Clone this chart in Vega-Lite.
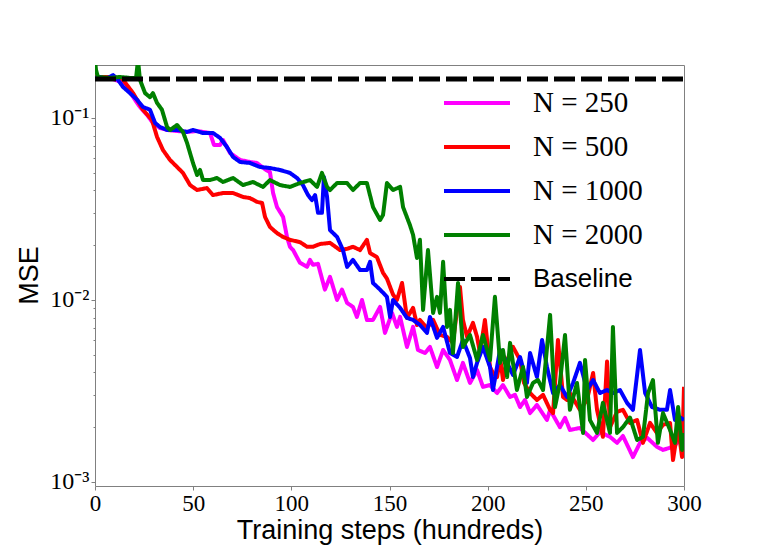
{
  "$schema": "https://vega.github.io/schema/vega-lite/v6.json",
  "width": 589,
  "height": 421,
  "autosize": {"type": "none"},
  "padding": {"left": 95, "top": 65, "right": 77, "bottom": 60},
  "background": "white",
  "config": {"view": {"stroke": "#808080", "strokeWidth": 1}},
  "data": {
    "values": [
      {"series": "N = 250", "steps": 0, "mse": 0.168},
      {"series": "N = 250", "steps": 7.6, "mse": 0.166},
      {"series": "N = 250", "steps": 14.3, "mse": 0.156},
      {"series": "N = 250", "steps": 17.8, "mse": 0.139},
      {"series": "N = 250", "steps": 21.4, "mse": 0.121},
      {"series": "N = 250", "steps": 22.9, "mse": 0.115},
      {"series": "N = 250", "steps": 26.5, "mse": 0.104},
      {"series": "N = 250", "steps": 29.5, "mse": 0.0939},
      {"series": "N = 250", "steps": 33.1, "mse": 0.0881},
      {"series": "N = 250", "steps": 36.7, "mse": 0.0859},
      {"series": "N = 250", "steps": 41.8, "mse": 0.0848},
      {"series": "N = 250", "steps": 46.9, "mse": 0.0838},
      {"series": "N = 250", "steps": 52.0, "mse": 0.0848},
      {"series": "N = 250", "steps": 58.6, "mse": 0.0827},
      {"series": "N = 250", "steps": 60.6, "mse": 0.0711},
      {"series": "N = 250", "steps": 63.7, "mse": 0.0711},
      {"series": "N = 250", "steps": 65.2, "mse": 0.0757},
      {"series": "N = 250", "steps": 68.8, "mse": 0.0642},
      {"series": "N = 250", "steps": 73.9, "mse": 0.0588},
      {"series": "N = 250", "steps": 78.9, "mse": 0.0573},
      {"series": "N = 250", "steps": 82.5, "mse": 0.0566},
      {"series": "N = 250", "steps": 85.1, "mse": 0.0538},
      {"series": "N = 250", "steps": 87.1, "mse": 0.0518},
      {"series": "N = 250", "steps": 89.1, "mse": 0.0505},
      {"series": "N = 250", "steps": 90.7, "mse": 0.0387},
      {"series": "N = 250", "steps": 92.7, "mse": 0.0324},
      {"series": "N = 250", "steps": 95.8, "mse": 0.0286},
      {"series": "N = 250", "steps": 97.8, "mse": 0.0222},
      {"series": "N = 250", "steps": 99.3, "mse": 0.0196},
      {"series": "N = 250", "steps": 100.9, "mse": 0.0188},
      {"series": "N = 250", "steps": 104.4, "mse": 0.016},
      {"series": "N = 250", "steps": 108.0, "mse": 0.0152},
      {"series": "N = 250", "steps": 109.5, "mse": 0.0166},
      {"series": "N = 250", "steps": 111.0, "mse": 0.0156},
      {"series": "N = 250", "steps": 113.6, "mse": 0.0158},
      {"series": "N = 250", "steps": 117.1, "mse": 0.0114},
      {"series": "N = 250", "steps": 119.7, "mse": 0.0134},
      {"series": "N = 250", "steps": 123.3, "mse": 0.01},
      {"series": "N = 250", "steps": 125.8, "mse": 0.0114},
      {"series": "N = 250", "steps": 128.4, "mse": 0.00963},
      {"series": "N = 250", "steps": 131.4, "mse": 0.00916},
      {"series": "N = 250", "steps": 133.4, "mse": 0.00807},
      {"series": "N = 250", "steps": 136.0, "mse": 0.01},
      {"series": "N = 250", "steps": 138.5, "mse": 0.00777},
      {"series": "N = 250", "steps": 141.6, "mse": 0.00777},
      {"series": "N = 250", "steps": 145.2, "mse": 0.00916},
      {"series": "N = 250", "steps": 147.7, "mse": 0.00659},
      {"series": "N = 250", "steps": 151.3, "mse": 0.00849},
      {"series": "N = 250", "steps": 153.8, "mse": 0.00711},
      {"series": "N = 250", "steps": 155.4, "mse": 0.00807},
      {"series": "N = 250", "steps": 158.9, "mse": 0.00552},
      {"series": "N = 250", "steps": 162.0, "mse": 0.00711},
      {"series": "N = 250", "steps": 164.5, "mse": 0.00531},
      {"series": "N = 250", "steps": 168.1, "mse": 0.00511},
      {"series": "N = 250", "steps": 170.6, "mse": 0.00552},
      {"series": "N = 250", "steps": 174.2, "mse": 0.00428},
      {"series": "N = 250", "steps": 177.3, "mse": 0.00531},
      {"series": "N = 250", "steps": 180.8, "mse": 0.00468},
      {"series": "N = 250", "steps": 184.4, "mse": 0.00363},
      {"series": "N = 250", "steps": 187.4, "mse": 0.00451},
      {"series": "N = 250", "steps": 191.0, "mse": 0.0035},
      {"series": "N = 250", "steps": 194.6, "mse": 0.00412},
      {"series": "N = 250", "steps": 197.6, "mse": 0.00333},
      {"series": "N = 250", "steps": 201.2, "mse": 0.00341},
      {"series": "N = 250", "steps": 204.8, "mse": 0.00308},
      {"series": "N = 250", "steps": 207.8, "mse": 0.00341},
      {"series": "N = 250", "steps": 211.4, "mse": 0.00293},
      {"series": "N = 250", "steps": 213.9, "mse": 0.00301},
      {"series": "N = 250", "steps": 216.5, "mse": 0.00258},
      {"series": "N = 250", "steps": 219.0, "mse": 0.00282},
      {"series": "N = 250", "steps": 221.6, "mse": 0.00239},
      {"series": "N = 250", "steps": 225.1, "mse": 0.00265},
      {"series": "N = 250", "steps": 230.2, "mse": 0.00219},
      {"series": "N = 250", "steps": 231.8, "mse": 0.00249},
      {"series": "N = 250", "steps": 236.8, "mse": 0.002},
      {"series": "N = 250", "steps": 239.4, "mse": 0.00225},
      {"series": "N = 250", "steps": 241.9, "mse": 0.00193},
      {"series": "N = 250", "steps": 247.0, "mse": 0.00198},
      {"series": "N = 250", "steps": 253.7, "mse": 0.0017},
      {"series": "N = 250", "steps": 257.2, "mse": 0.00188},
      {"series": "N = 250", "steps": 262.3, "mse": 0.00177},
      {"series": "N = 250", "steps": 265.9, "mse": 0.00164},
      {"series": "N = 250", "steps": 268.9, "mse": 0.00179},
      {"series": "N = 250", "steps": 274.0, "mse": 0.00137},
      {"series": "N = 250", "steps": 277.6, "mse": 0.00164},
      {"series": "N = 250", "steps": 281.2, "mse": 0.00175},
      {"series": "N = 250", "steps": 286.2, "mse": 0.00156},
      {"series": "N = 250", "steps": 289.3, "mse": 0.0015},
      {"series": "N = 250", "steps": 294.4, "mse": 0.00156},
      {"series": "N = 250", "steps": 297.0, "mse": 0.00166},
      {"series": "N = 250", "steps": 300, "mse": 0.00164},
      {"series": "N = 500", "steps": 0, "mse": 0.168},
      {"series": "N = 500", "steps": 7.6, "mse": 0.168},
      {"series": "N = 500", "steps": 12.7, "mse": 0.166},
      {"series": "N = 500", "steps": 14.3, "mse": 0.162},
      {"series": "N = 500", "steps": 19.4, "mse": 0.137},
      {"series": "N = 500", "steps": 24.4, "mse": 0.111},
      {"series": "N = 500", "steps": 29.0, "mse": 0.0975},
      {"series": "N = 500", "steps": 31.6, "mse": 0.0787},
      {"series": "N = 500", "steps": 34.6, "mse": 0.0667},
      {"series": "N = 500", "steps": 38.2, "mse": 0.0588},
      {"series": "N = 500", "steps": 41.8, "mse": 0.0538},
      {"series": "N = 500", "steps": 44.8, "mse": 0.0499},
      {"series": "N = 500", "steps": 48.4, "mse": 0.0428},
      {"series": "N = 500", "steps": 52.0, "mse": 0.0402},
      {"series": "N = 500", "steps": 57.0, "mse": 0.0412},
      {"series": "N = 500", "steps": 60.1, "mse": 0.0377},
      {"series": "N = 500", "steps": 65.2, "mse": 0.0387},
      {"series": "N = 500", "steps": 70.3, "mse": 0.0387},
      {"series": "N = 500", "steps": 75.4, "mse": 0.0368},
      {"series": "N = 500", "steps": 78.9, "mse": 0.0363},
      {"series": "N = 500", "steps": 82.5, "mse": 0.0346},
      {"series": "N = 500", "steps": 85.1, "mse": 0.0341},
      {"series": "N = 500", "steps": 86.6, "mse": 0.0286},
      {"series": "N = 500", "steps": 89.1, "mse": 0.0252},
      {"series": "N = 500", "steps": 92.7, "mse": 0.0233},
      {"series": "N = 500", "steps": 95.8, "mse": 0.0222},
      {"series": "N = 500", "steps": 99.3, "mse": 0.0214},
      {"series": "N = 500", "steps": 104.4, "mse": 0.0208},
      {"series": "N = 500", "steps": 108.0, "mse": 0.0196},
      {"series": "N = 500", "steps": 111.0, "mse": 0.0196},
      {"series": "N = 500", "steps": 114.6, "mse": 0.0203},
      {"series": "N = 500", "steps": 119.7, "mse": 0.0206},
      {"series": "N = 500", "steps": 124.8, "mse": 0.0188},
      {"series": "N = 500", "steps": 128.4, "mse": 0.0191},
      {"series": "N = 500", "steps": 131.4, "mse": 0.0196},
      {"series": "N = 500", "steps": 135.0, "mse": 0.0188},
      {"series": "N = 500", "steps": 138.5, "mse": 0.0214},
      {"series": "N = 500", "steps": 140.1, "mse": 0.0181},
      {"series": "N = 500", "steps": 143.6, "mse": 0.0172},
      {"series": "N = 500", "steps": 146.7, "mse": 0.0141},
      {"series": "N = 500", "steps": 148.7, "mse": 0.0131},
      {"series": "N = 500", "steps": 151.8, "mse": 0.0107},
      {"series": "N = 500", "steps": 153.8, "mse": 0.01},
      {"series": "N = 500", "steps": 156.4, "mse": 0.0124},
      {"series": "N = 500", "steps": 158.9, "mse": 0.00797},
      {"series": "N = 500", "steps": 162.0, "mse": 0.00905},
      {"series": "N = 500", "steps": 164.0, "mse": 0.00729},
      {"series": "N = 500", "steps": 165.5, "mse": 0.00777},
      {"series": "N = 500", "steps": 169.1, "mse": 0.00702},
      {"series": "N = 500", "steps": 172.2, "mse": 0.00777},
      {"series": "N = 500", "steps": 175.7, "mse": 0.00642},
      {"series": "N = 500", "steps": 179.3, "mse": 0.00627},
      {"series": "N = 500", "steps": 182.3, "mse": 0.00581},
      {"series": "N = 500", "steps": 185.9, "mse": 0.0118},
      {"series": "N = 500", "steps": 187.4, "mse": 0.00777},
      {"series": "N = 500", "steps": 189.5, "mse": 0.00627},
      {"series": "N = 500", "steps": 192.5, "mse": 0.00748},
      {"series": "N = 500", "steps": 194.6, "mse": 0.00627},
      {"series": "N = 500", "steps": 196.1, "mse": 0.00511},
      {"series": "N = 500", "steps": 198.6, "mse": 0.00777},
      {"series": "N = 500", "steps": 201.2, "mse": 0.00428},
      {"series": "N = 500", "steps": 202.7, "mse": 0.00397},
      {"series": "N = 500", "steps": 204.8, "mse": 0.00377},
      {"series": "N = 500", "steps": 206.3, "mse": 0.00486},
      {"series": "N = 500", "steps": 207.8, "mse": 0.00363},
      {"series": "N = 500", "steps": 209.9, "mse": 0.00468},
      {"series": "N = 500", "steps": 212.9, "mse": 0.00552},
      {"series": "N = 500", "steps": 216.5, "mse": 0.00468},
      {"series": "N = 500", "steps": 218.5, "mse": 0.0035},
      {"series": "N = 500", "steps": 221.6, "mse": 0.00308},
      {"series": "N = 500", "steps": 225.1, "mse": 0.00282},
      {"series": "N = 500", "steps": 228.2, "mse": 0.00301},
      {"series": "N = 500", "steps": 231.8, "mse": 0.00249},
      {"series": "N = 500", "steps": 233.3, "mse": 0.00239},
      {"series": "N = 500", "steps": 235.8, "mse": 0.00603},
      {"series": "N = 500", "steps": 238.4, "mse": 0.00293},
      {"series": "N = 500", "steps": 240.4, "mse": 0.00282},
      {"series": "N = 500", "steps": 241.9, "mse": 0.00308},
      {"series": "N = 500", "steps": 247.0, "mse": 0.00249},
      {"series": "N = 500", "steps": 250.6, "mse": 0.00282},
      {"series": "N = 500", "steps": 253.7, "mse": 0.00397},
      {"series": "N = 500", "steps": 255.7, "mse": 0.00249},
      {"series": "N = 500", "steps": 258.7, "mse": 0.00177},
      {"series": "N = 500", "steps": 260.8, "mse": 0.00459},
      {"series": "N = 500", "steps": 262.3, "mse": 0.002},
      {"series": "N = 500", "steps": 265.9, "mse": 0.00243},
      {"series": "N = 500", "steps": 268.9, "mse": 0.00249},
      {"series": "N = 500", "steps": 272.5, "mse": 0.00211},
      {"series": "N = 500", "steps": 276.1, "mse": 0.00219},
      {"series": "N = 500", "steps": 279.1, "mse": 0.00164},
      {"series": "N = 500", "steps": 282.7, "mse": 0.00211},
      {"series": "N = 500", "steps": 286.2, "mse": 0.00186},
      {"series": "N = 500", "steps": 289.3, "mse": 0.00206},
      {"series": "N = 500", "steps": 292.9, "mse": 0.00211},
      {"series": "N = 500", "steps": 294.4, "mse": 0.00132},
      {"series": "N = 500", "steps": 297.0, "mse": 0.002},
      {"series": "N = 500", "steps": 299.0, "mse": 0.00137},
      {"series": "N = 500", "steps": 300, "mse": 0.00333},
      {"series": "N = 1000", "steps": 0, "mse": 0.166},
      {"series": "N = 1000", "steps": 2.5, "mse": 0.168},
      {"series": "N = 1000", "steps": 5.1, "mse": 0.164},
      {"series": "N = 1000", "steps": 7.6, "mse": 0.168},
      {"series": "N = 1000", "steps": 9.2, "mse": 0.172},
      {"series": "N = 1000", "steps": 11.7, "mse": 0.162},
      {"series": "N = 1000", "steps": 14.3, "mse": 0.148},
      {"series": "N = 1000", "steps": 17.8, "mse": 0.137},
      {"series": "N = 1000", "steps": 21.4, "mse": 0.126},
      {"series": "N = 1000", "steps": 24.4, "mse": 0.115},
      {"series": "N = 1000", "steps": 28.0, "mse": 0.111},
      {"series": "N = 1000", "steps": 30.6, "mse": 0.0939},
      {"series": "N = 1000", "steps": 33.1, "mse": 0.0892},
      {"series": "N = 1000", "steps": 36.7, "mse": 0.0859},
      {"series": "N = 1000", "steps": 41.8, "mse": 0.0859},
      {"series": "N = 1000", "steps": 46.9, "mse": 0.0838},
      {"series": "N = 1000", "steps": 49.9, "mse": 0.0859},
      {"series": "N = 1000", "steps": 55.0, "mse": 0.0827},
      {"series": "N = 1000", "steps": 60.1, "mse": 0.0827},
      {"series": "N = 1000", "steps": 63.7, "mse": 0.0777},
      {"series": "N = 1000", "steps": 67.2, "mse": 0.0693},
      {"series": "N = 1000", "steps": 70.3, "mse": 0.0611},
      {"series": "N = 1000", "steps": 73.9, "mse": 0.0573},
      {"series": "N = 1000", "steps": 78.9, "mse": 0.0566},
      {"series": "N = 1000", "steps": 84.0, "mse": 0.0538},
      {"series": "N = 1000", "steps": 89.1, "mse": 0.0531},
      {"series": "N = 1000", "steps": 94.2, "mse": 0.0518},
      {"series": "N = 1000", "steps": 99.3, "mse": 0.0499},
      {"series": "N = 1000", "steps": 102.9, "mse": 0.0468},
      {"series": "N = 1000", "steps": 105.9, "mse": 0.0428},
      {"series": "N = 1000", "steps": 108.5, "mse": 0.0377},
      {"series": "N = 1000", "steps": 110.5, "mse": 0.0354},
      {"series": "N = 1000", "steps": 112.1, "mse": 0.0377},
      {"series": "N = 1000", "steps": 113.6, "mse": 0.0301},
      {"series": "N = 1000", "steps": 115.6, "mse": 0.0301},
      {"series": "N = 1000", "steps": 116.6, "mse": 0.0474},
      {"series": "N = 1000", "steps": 118.2, "mse": 0.0368},
      {"series": "N = 1000", "steps": 119.7, "mse": 0.0242},
      {"series": "N = 1000", "steps": 123.3, "mse": 0.0222},
      {"series": "N = 1000", "steps": 126.3, "mse": 0.0188},
      {"series": "N = 1000", "steps": 128.4, "mse": 0.0152},
      {"series": "N = 1000", "steps": 131.4, "mse": 0.0166},
      {"series": "N = 1000", "steps": 135.0, "mse": 0.0146},
      {"series": "N = 1000", "steps": 138.5, "mse": 0.0146},
      {"series": "N = 1000", "steps": 140.1, "mse": 0.0162},
      {"series": "N = 1000", "steps": 141.6, "mse": 0.0124},
      {"series": "N = 1000", "steps": 145.2, "mse": 0.0114},
      {"series": "N = 1000", "steps": 148.7, "mse": 0.0104},
      {"series": "N = 1000", "steps": 150.3, "mse": 0.00807},
      {"series": "N = 1000", "steps": 151.8, "mse": 0.01},
      {"series": "N = 1000", "steps": 155.4, "mse": 0.00905},
      {"series": "N = 1000", "steps": 158.9, "mse": 0.00797},
      {"series": "N = 1000", "steps": 162.0, "mse": 0.00777},
      {"series": "N = 1000", "steps": 165.5, "mse": 0.00729},
      {"series": "N = 1000", "steps": 169.1, "mse": 0.00659},
      {"series": "N = 1000", "steps": 170.6, "mse": 0.00807},
      {"series": "N = 1000", "steps": 174.2, "mse": 0.00619},
      {"series": "N = 1000", "steps": 177.3, "mse": 0.00711},
      {"series": "N = 1000", "steps": 180.8, "mse": 0.00511},
      {"series": "N = 1000", "steps": 184.4, "mse": 0.00486},
      {"series": "N = 1000", "steps": 187.4, "mse": 0.00603},
      {"series": "N = 1000", "steps": 191.0, "mse": 0.0048},
      {"series": "N = 1000", "steps": 192.5, "mse": 0.00377},
      {"series": "N = 1000", "steps": 194.6, "mse": 0.00451},
      {"series": "N = 1000", "steps": 197.6, "mse": 0.00552},
      {"series": "N = 1000", "steps": 201.2, "mse": 0.00428},
      {"series": "N = 1000", "steps": 202.7, "mse": 0.0032},
      {"series": "N = 1000", "steps": 206.3, "mse": 0.00531},
      {"series": "N = 1000", "steps": 209.9, "mse": 0.00451},
      {"series": "N = 1000", "steps": 212.9, "mse": 0.00387},
      {"series": "N = 1000", "steps": 216.5, "mse": 0.00486},
      {"series": "N = 1000", "steps": 220.0, "mse": 0.0035},
      {"series": "N = 1000", "steps": 221.6, "mse": 0.00511},
      {"series": "N = 1000", "steps": 225.1, "mse": 0.00377},
      {"series": "N = 1000", "steps": 227.7, "mse": 0.00603},
      {"series": "N = 1000", "steps": 230.2, "mse": 0.00428},
      {"series": "N = 1000", "steps": 233.3, "mse": 0.00308},
      {"series": "N = 1000", "steps": 236.8, "mse": 0.00341},
      {"series": "N = 1000", "steps": 240.4, "mse": 0.00293},
      {"series": "N = 1000", "steps": 243.5, "mse": 0.0035},
      {"series": "N = 1000", "steps": 247.0, "mse": 0.00451},
      {"series": "N = 1000", "steps": 250.6, "mse": 0.0032},
      {"series": "N = 1000", "steps": 253.7, "mse": 0.00363},
      {"series": "N = 1000", "steps": 257.2, "mse": 0.00308},
      {"series": "N = 1000", "steps": 260.8, "mse": 0.0032},
      {"series": "N = 1000", "steps": 263.8, "mse": 0.00308},
      {"series": "N = 1000", "steps": 267.4, "mse": 0.0032},
      {"series": "N = 1000", "steps": 271.0, "mse": 0.00272},
      {"series": "N = 1000", "steps": 274.0, "mse": 0.00249},
      {"series": "N = 1000", "steps": 277.6, "mse": 0.00531},
      {"series": "N = 1000", "steps": 280.2, "mse": 0.00308},
      {"series": "N = 1000", "steps": 283.7, "mse": 0.00258},
      {"series": "N = 1000", "steps": 287.8, "mse": 0.00249},
      {"series": "N = 1000", "steps": 291.3, "mse": 0.00249},
      {"series": "N = 1000", "steps": 292.9, "mse": 0.0032},
      {"series": "N = 1000", "steps": 295.4, "mse": 0.00219},
      {"series": "N = 1000", "steps": 298.0, "mse": 0.00226},
      {"series": "N = 1000", "steps": 300, "mse": 0.00219},
      {"series": "N = 2000", "steps": 0, "mse": 0.208},
      {"series": "N = 2000", "steps": 0.5, "mse": 0.184},
      {"series": "N = 2000", "steps": 1.5, "mse": 0.168},
      {"series": "N = 2000", "steps": 7.6, "mse": 0.166},
      {"series": "N = 2000", "steps": 12.7, "mse": 0.168},
      {"series": "N = 2000", "steps": 17.8, "mse": 0.166},
      {"series": "N = 2000", "steps": 20.9, "mse": 0.166},
      {"series": "N = 2000", "steps": 21.9, "mse": 0.208},
      {"series": "N = 2000", "steps": 22.9, "mse": 0.162},
      {"series": "N = 2000", "steps": 25.5, "mse": 0.137},
      {"series": "N = 2000", "steps": 28.0, "mse": 0.13},
      {"series": "N = 2000", "steps": 29.5, "mse": 0.137},
      {"series": "N = 2000", "steps": 31.6, "mse": 0.121},
      {"series": "N = 2000", "steps": 34.1, "mse": 0.111},
      {"series": "N = 2000", "steps": 36.7, "mse": 0.0892},
      {"series": "N = 2000", "steps": 38.2, "mse": 0.0859},
      {"series": "N = 2000", "steps": 41.8, "mse": 0.0915},
      {"series": "N = 2000", "steps": 44.8, "mse": 0.0838},
      {"series": "N = 2000", "steps": 46.9, "mse": 0.0729},
      {"series": "N = 2000", "steps": 48.4, "mse": 0.0642},
      {"series": "N = 2000", "steps": 49.9, "mse": 0.0566},
      {"series": "N = 2000", "steps": 52.0, "mse": 0.0486},
      {"series": "N = 2000", "steps": 53.5, "mse": 0.0518},
      {"series": "N = 2000", "steps": 55.0, "mse": 0.0456},
      {"series": "N = 2000", "steps": 58.6, "mse": 0.0456},
      {"series": "N = 2000", "steps": 62.1, "mse": 0.0468},
      {"series": "N = 2000", "steps": 65.2, "mse": 0.0445},
      {"series": "N = 2000", "steps": 70.3, "mse": 0.0468},
      {"series": "N = 2000", "steps": 75.4, "mse": 0.0428},
      {"series": "N = 2000", "steps": 80.5, "mse": 0.0445},
      {"series": "N = 2000", "steps": 85.6, "mse": 0.0418},
      {"series": "N = 2000", "steps": 89.1, "mse": 0.0456},
      {"series": "N = 2000", "steps": 94.2, "mse": 0.0428},
      {"series": "N = 2000", "steps": 99.3, "mse": 0.0418},
      {"series": "N = 2000", "steps": 104.4, "mse": 0.0439},
      {"series": "N = 2000", "steps": 109.5, "mse": 0.0456},
      {"series": "N = 2000", "steps": 113.1, "mse": 0.0418},
      {"series": "N = 2000", "steps": 115.6, "mse": 0.0499},
      {"series": "N = 2000", "steps": 118.2, "mse": 0.0418},
      {"series": "N = 2000", "steps": 119.7, "mse": 0.0402},
      {"series": "N = 2000", "steps": 123.3, "mse": 0.0439},
      {"series": "N = 2000", "steps": 128.4, "mse": 0.0439},
      {"series": "N = 2000", "steps": 131.4, "mse": 0.0402},
      {"series": "N = 2000", "steps": 135.0, "mse": 0.0439},
      {"series": "N = 2000", "steps": 138.5, "mse": 0.0439},
      {"series": "N = 2000", "steps": 141.6, "mse": 0.0324},
      {"series": "N = 2000", "steps": 145.2, "mse": 0.0275},
      {"series": "N = 2000", "steps": 146.7, "mse": 0.0293},
      {"series": "N = 2000", "steps": 148.7, "mse": 0.0439},
      {"series": "N = 2000", "steps": 151.8, "mse": 0.0402},
      {"series": "N = 2000", "steps": 155.4, "mse": 0.0418},
      {"series": "N = 2000", "steps": 156.9, "mse": 0.0324},
      {"series": "N = 2000", "steps": 160.4, "mse": 0.0258},
      {"series": "N = 2000", "steps": 162.0, "mse": 0.0228},
      {"series": "N = 2000", "steps": 164.0, "mse": 0.017},
      {"series": "N = 2000", "steps": 165.5, "mse": 0.0214},
      {"series": "N = 2000", "steps": 167.1, "mse": 0.00882},
      {"series": "N = 2000", "steps": 169.6, "mse": 0.0188},
      {"series": "N = 2000", "steps": 172.2, "mse": 0.00849},
      {"series": "N = 2000", "steps": 174.2, "mse": 0.0104},
      {"series": "N = 2000", "steps": 175.7, "mse": 0.00849},
      {"series": "N = 2000", "steps": 177.3, "mse": 0.0162},
      {"series": "N = 2000", "steps": 179.3, "mse": 0.00711},
      {"series": "N = 2000", "steps": 180.8, "mse": 0.00882},
      {"series": "N = 2000", "steps": 182.3, "mse": 0.00511},
      {"series": "N = 2000", "steps": 184.9, "mse": 0.0124},
      {"series": "N = 2000", "steps": 187.4, "mse": 0.00552},
      {"series": "N = 2000", "steps": 191.0, "mse": 0.00642},
      {"series": "N = 2000", "steps": 194.6, "mse": 0.00468},
      {"series": "N = 2000", "steps": 197.6, "mse": 0.00642},
      {"series": "N = 2000", "steps": 201.2, "mse": 0.00468},
      {"series": "N = 2000", "steps": 203.7, "mse": 0.0104},
      {"series": "N = 2000", "steps": 206.3, "mse": 0.00451},
      {"series": "N = 2000", "steps": 207.8, "mse": 0.00531},
      {"series": "N = 2000", "steps": 209.9, "mse": 0.00377},
      {"series": "N = 2000", "steps": 211.4, "mse": 0.00581},
      {"series": "N = 2000", "steps": 214.9, "mse": 0.0032},
      {"series": "N = 2000", "steps": 218.0, "mse": 0.00428},
      {"series": "N = 2000", "steps": 220.0, "mse": 0.00293},
      {"series": "N = 2000", "steps": 223.1, "mse": 0.0035},
      {"series": "N = 2000", "steps": 225.6, "mse": 0.00363},
      {"series": "N = 2000", "steps": 228.2, "mse": 0.0032},
      {"series": "N = 2000", "steps": 231.8, "mse": 0.00828},
      {"series": "N = 2000", "steps": 234.3, "mse": 0.00258},
      {"series": "N = 2000", "steps": 236.8, "mse": 0.0035},
      {"series": "N = 2000", "steps": 239.4, "mse": 0.00642},
      {"series": "N = 2000", "steps": 241.9, "mse": 0.00249},
      {"series": "N = 2000", "steps": 245.5, "mse": 0.0035},
      {"series": "N = 2000", "steps": 248.6, "mse": 0.00186},
      {"series": "N = 2000", "steps": 249.6, "mse": 0.00468},
      {"series": "N = 2000", "steps": 252.1, "mse": 0.00219},
      {"series": "N = 2000", "steps": 255.7, "mse": 0.00186},
      {"series": "N = 2000", "steps": 258.7, "mse": 0.00272},
      {"series": "N = 2000", "steps": 262.3, "mse": 0.00186},
      {"series": "N = 2000", "steps": 263.8, "mse": 0.00711},
      {"series": "N = 2000", "steps": 265.9, "mse": 0.00186},
      {"series": "N = 2000", "steps": 268.9, "mse": 0.002},
      {"series": "N = 2000", "steps": 272.5, "mse": 0.00226},
      {"series": "N = 2000", "steps": 276.1, "mse": 0.0017},
      {"series": "N = 2000", "steps": 279.1, "mse": 0.00177},
      {"series": "N = 2000", "steps": 281.7, "mse": 0.00308},
      {"series": "N = 2000", "steps": 284.2, "mse": 0.00363},
      {"series": "N = 2000", "steps": 286.7, "mse": 0.00164},
      {"series": "N = 2000", "steps": 289.3, "mse": 0.00239},
      {"series": "N = 2000", "steps": 292.9, "mse": 0.00193},
      {"series": "N = 2000", "steps": 295.4, "mse": 0.00164},
      {"series": "N = 2000", "steps": 297.0, "mse": 0.00258},
      {"series": "N = 2000", "steps": 299.0, "mse": 0.0015},
      {"series": "N = 2000", "steps": 300, "mse": 0.00186},
      {"series": "Baseline", "steps": 0, "mse": 0.164},
      {"series": "Baseline", "steps": 300, "mse": 0.164}
    ]
  },
  "encoding": {
    "x": {
      "field": "steps",
      "type": "quantitative",
      "scale": {"domain": [0, 300], "nice": false, "zero": false},
      "axis": {
        "title": "Training steps (hundreds)",
        "values": [0, 50, 100, 150, 200, 250, 300],
        "grid": false,
        "domain": false,
        "tickSize": 4,
        "tickColor": "#808080",
        "labelPadding": 2,
        "labelFlush": false,
        "labelFont": "Liberation Serif",
        "labelFontSize": 23,
        "labelColor": "black",
        "titleFont": "Liberation Sans",
        "titleFontSize": 27,
        "titleFontWeight": "normal",
        "titleColor": "black",
        "titleBaseline": "alphabetic",
        "titleY": 52
      }
    },
    "y": {
      "field": "mse",
      "type": "quantitative",
      "scale": {"type": "log", "domain": [0.00095, 0.1955], "nice": false},
      "axis": {
        "title": "MSE",
        "values": [0.001, 0.002, 0.003, 0.004, 0.005, 0.006, 0.007, 0.008, 0.009, 0.01, 0.02, 0.03, 0.04, 0.05, 0.06, 0.07, 0.08, 0.09, 0.1],
        "labelExpr": "datum.value == 0.1 ? '10⁻¹' : datum.value == 0.01 ? '10⁻²' : datum.value == 0.001 ? '10⁻³' : ''",
        "grid": false,
        "domain": false,
        "tickSize": {"condition": {"test": "datum.value == 0.1 || datum.value == 0.01 || datum.value == 0.001", "value": 4}, "value": 2},
        "tickColor": "#808080",
        "labelPadding": 2,
        "labelOverlap": false,
        "labelFlush": false,
        "labelFont": "Liberation Serif",
        "labelFontSize": 24,
        "labelColor": "black",
        "titleFont": "Liberation Sans",
        "titleFontSize": 27,
        "titleFontWeight": "normal",
        "titleColor": "black",
        "titleBaseline": "alphabetic",
        "titleAlign": "center",
        "titleX": -58,
        "titleY": 210
      }
    },
    "color": {
      "field": "series",
      "type": "nominal",
      "scale": {
        "domain": ["N = 250", "N = 500", "N = 1000", "N = 2000", "Baseline"],
        "range": ["#ff00ff", "#ff0000", "#0000ff", "#008000", "#000000"]
      },
      "legend": {
        "title": null,
        "orient": "none",
        "legendX": 347,
        "legendY": 23,
        "padding": 0,
        "symbolType": "stroke",
        "symbolSize": 4356,
        "symbolStrokeWidth": 4,
        "clipHeight": 30,
        "rowPadding": 14,
        "labelOffset": 21,
        "labelFont": "Liberation Serif",
        "labelFontSize": 29,
        "labelColor": "black",
        "labelLimit": 300,
        "encoding": {
          "labels": {
            "font": {"condition": {"test": "datum.value == 'Baseline'", "value": "Liberation Sans"}, "value": "Liberation Serif"},
            "fontSize": {"condition": {"test": "datum.value == 'Baseline'", "value": 26}, "value": 29}
          }
        }
      }
    },
    "strokeDash": {
      "field": "series",
      "type": "nominal",
      "scale": {
        "domain": ["N = 250", "N = 500", "N = 1000", "N = 2000", "Baseline"],
        "range": [[1, 0], [1, 0], [1, 0], [1, 0], [21, 6]]
      }
    }
  },
  "layer": [
    {
      "transform": [{"filter": "datum.series != 'Baseline'"}],
      "mark": {"type": "line", "strokeWidth": 4, "clip": true, "strokeJoin": "round"}
    },
    {
      "transform": [{"filter": "datum.series == 'Baseline'"}],
      "mark": {"type": "line", "strokeWidth": 5, "clip": true}
    }
  ]
}
